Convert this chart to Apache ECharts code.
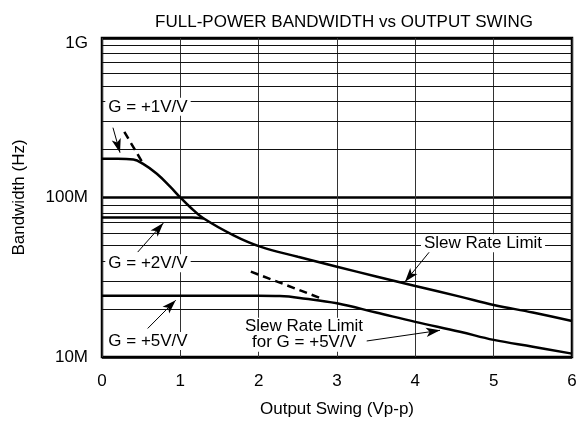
<!DOCTYPE html>
<html>
<head>
<meta charset="utf-8">
<script src="https://cdn.jsdelivr.net/npm/echarts@6/dist/echarts.min.js"></script>
<style>
	html, body { margin: 0; padding: 0; background: #fff; }
	#chart { width: 587px; height: 426px; }
</style>
</head>
<body>
<div id="chart"></div>
<script>
// data (x = output swing Vp-p, y = bandwidth in MHz)
var slewX = [0, 0.2, 0.4, 0.52, 0.7, 0.87, 1.0, 1.12, 1.29, 1.68, 2.02, 2.5, 3.0, 3.5, 4.0, 4.57, 5.0, 5.5, 6.0];
var slewY = [175, 175, 173, 163, 141, 117, 100, 87.5, 74.3, 57.9, 49.2, 42.5, 36.8, 32, 27.9, 23.9, 21.2, 19, 16.8];
var g2X = [0, 1.15, 1.3];
var g2Y = [75, 75, 73.8];
var g5X = [0, 1, 2, 2.27, 2.6, 3.0, 3.5, 4.0, 4.57, 5.0, 5.5, 6.0];
var g5Y = [24.2, 24.2, 24.2, 24.1, 23.2, 21.7, 19, 16.6, 14.4, 12.8, 11.6, 10.5];
var dash1X = [0.285, 0.506];
var dash1Y = [258, 169];
var dash5X = [1.9, 2.82];
var dash5Y = [34.3, 23.1];

var xTicks = [0, 1, 2, 3, 4, 5, 6];
var yTickLabels = { 10: '10M', 100: '100M', 1000: '{top|1G}' };
var yMinor = [20, 30, 40, 50, 60, 70, 80, 90, 200, 300, 400, 500, 600, 700, 800, 900];

// annotation texts and arrows [from x, from y, to x, to y]
var notes = [
	{ text: 'G = +1V/V', at: [0.587, 370] },
	{ text: 'G = +2V/V', at: [0.587, 38.7] },
	{ text: 'G = +5V/V', at: [0.587, 12.6] },
	{ text: 'Slew Rate Limit', at: [4.864, 51.6] },
	{ text: 'Slew Rate Limit\nfor G = +5V/V', at: [2.579, 13.8] }
];
var arrows = [
	[0.140, 274, 0.230, 191],
	[0.456, 45.5, 0.783, 69.1],
	[0.583, 15.1, 0.941, 22.7],
	[4.178, 45.5, 3.868, 29.6],
	[3.379, 12.6, 4.315, 14.7]
];

var FONT = 'Liberation Sans';

function pairs(xs, ys) {
	return xs.map(function(x, i) { return [x, ys[i]]; });
}

var myChart = echarts.init(document.getElementById('chart'), null, { renderer: 'canvas' });

var option = {
	animation: false,
	backgroundColor: '#fff',
	title: {
		text: 'FULL-POWER BANDWIDTH vs OUTPUT SWING',
		left: 339,
		textAlign: 'center',
		top: 9,
		textStyle: { fontFamily: FONT, fontSize: 17, fontWeight: 'normal', color: '#000' }
	},
	grid: {
		left: 102,
		right: 15,
		top: 38,
		bottom: 69,
		show: true,
		borderColor: '#000',
		borderWidth: 2.5,
		backgroundColor: '#fff'
	},
	xAxis: {
		type: 'value',
		min: 0,
		max: 6,
		interval: 1,
		name: 'Output Swing (Vp-p)',
		nameLocation: 'middle',
		nameGap: 44,
		nameTextStyle: { fontFamily: FONT, fontSize: 17, color: '#000' },
		axisLine: { show: false },
		axisTick: { show: false },
		axisLabel: {
			margin: 16,
			fontFamily: FONT, fontSize: 17, color: '#000',
			formatter: function(v) { return xTicks.indexOf(v) >= 0 ? String(v) : ''; }
		},
		splitLine: { show: true, lineStyle: { color: '#333', width: 1 } }
	},
	yAxis: {
		type: 'log',
		logBase: 10,
		min: 10,
		max: 1000,
		name: 'Bandwidth (Hz)',
		nameLocation: 'middle',
		nameGap: 74,
		nameTextStyle: { fontFamily: FONT, fontSize: 17, color: '#000' },
		axisLine: { show: false },
		axisTick: { show: false },
		axisLabel: {
			margin: 14,
			fontFamily: FONT, fontSize: 17, color: '#000',
			formatter: function(v) { return yTickLabels[Math.round(v)] || ''; },
			rich: {
				top: { fontFamily: FONT, fontSize: 17, color: '#000', padding: [10, 0, 0, 0] }
			}
		},
		splitLine: { show: true, lineStyle: { color: '#000', width: 2.5 } }
	},
	series: [
		{
			// minor log grid lines
			name: 'grid',
			type: 'line',
			data: [],
			z: 1,
			silent: true,
			markLine: {
				silent: true,
				symbol: 'none',
				label: { show: false },
				lineStyle: { color: '#111', width: 1, type: 'solid' },
				data: yMinor.map(function(v) { return { yAxis: v }; })
			}
		},
		{
			// text boxes over the grid
			name: 'notes',
			type: 'line',
			data: [],
			z: 2,
			markPoint: {
				silent: true,
				symbol: 'circle',
				symbolSize: 0,
				label: {
					show: true,
					position: 'inside',
					fontFamily: FONT,
					fontSize: 17,
					lineHeight: 16,
					align: 'center',
					color: '#000',
					backgroundColor: '#fff',
					padding: [1, 3]
				},
				data: notes.map(function(n) {
					return { coord: n.at, label: { formatter: n.text } };
				})
			}
		},
		{
			name: 'slew',
			type: 'line',
			data: pairs(slewX, slewY),
			z: 5,
			smooth: 0.4,
			showSymbol: false,
			lineStyle: { color: '#000', width: 2.5 }
		},
		{
			name: 'g2',
			type: 'line',
			data: pairs(g2X, g2Y),
			z: 5,
			smooth: 0.3,
			showSymbol: false,
			lineStyle: { color: '#000', width: 2.5 }
		},
		{
			name: 'g5',
			type: 'line',
			data: pairs(g5X, g5Y),
			z: 5,
			smooth: 0.4,
			showSymbol: false,
			lineStyle: { color: '#000', width: 2.5 }
		},
		{
			name: 'dash1',
			type: 'line',
			data: pairs(dash1X, dash1Y),
			z: 5,
			showSymbol: false,
			lineStyle: { color: '#000', width: 2.5, type: [8, 5] }
		},
		{
			name: 'dash5',
			type: 'line',
			data: pairs(dash5X, dash5Y),
			z: 5,
			showSymbol: false,
			lineStyle: { color: '#000', width: 2.5, type: [8, 5] }
		},
		{
			// arrows
			name: 'arrows',
			type: 'line',
			data: [],
			z: 6,
			markLine: {
				silent: true,
				label: { show: false },
				symbolSize: [7, 14],
				lineStyle: { color: '#000', width: 1, type: 'solid' },
				data: arrows.map(function(a) {
					return [
						{ coord: [a[0], a[1]], symbol: 'none' },
						{ coord: [a[2], a[3]], symbol: 'arrow' }
					];
				})
			}
		}
	]
};

myChart.setOption(option);
</script>
</body>
</html>
